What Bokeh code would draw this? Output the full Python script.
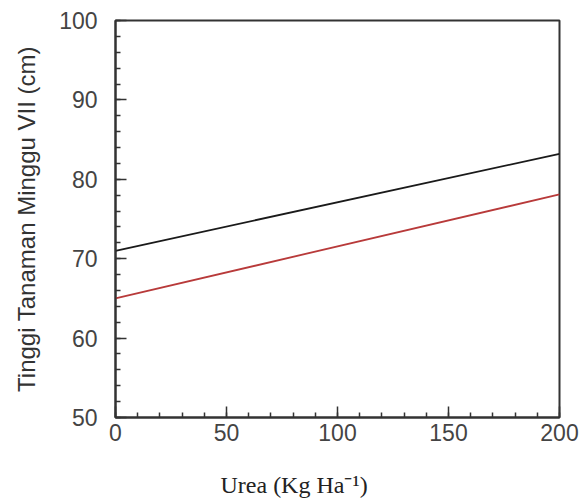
from bokeh.plotting import figure
from bokeh.models import Range1d, Title, FixedTicker
from bokeh.embed import file_html
from bokeh.resources import INLINE

urea = [0, 200]
tinggi_black = [71.0, 83.2]
tinggi_red = [65.0, 78.1]
x_ticks = [0, 50, 100, 150, 200]
y_ticks = [50, 60, 70, 80, 90, 100]
x_title = "Urea (Kg Ha\u207b\u00b9)"
y_title = "Tinggi Tanaman Minggu VII (cm)"

p = figure(width=582, height=504, output_backend="svg", toolbar_location=None,
           x_range=Range1d(0, 200), y_range=Range1d(50, 100),
           min_border_left=115, min_border_right=23, min_border_top=20, min_border_bottom=87)
p.grid.visible = False
p.background_fill_color = "white"
p.border_fill_color = "white"
p.outline_line_color = "#333333"
p.outline_line_width = 2

p.line(urea, tinggi_black, line_color="#1a1a1a", line_width=1.8)
p.line(urea, tinggi_red, line_color="#b83a3a", line_width=1.8)

for ax in (p.xaxis[0], p.yaxis[0]):
    ax.axis_line_color = "#333333"
    ax.axis_line_width = 2
    ax.major_tick_line_color = "#333333"
    ax.minor_tick_line_color = "#333333"
    ax.major_tick_line_width = 1.5
    ax.minor_tick_line_width = 1.5
    ax.major_tick_in = 11
    ax.major_tick_out = 0
    ax.minor_tick_in = 5
    ax.minor_tick_out = 0
    ax.major_label_text_font = "Liberation Sans"
    ax.major_label_text_font_size = "23px"
    ax.major_label_text_color = "#444444"

p.xaxis.ticker = FixedTicker(ticks=x_ticks, minor_ticks=list(range(0, 201, 10)))
p.yaxis.ticker = FixedTicker(ticks=y_ticks, minor_ticks=list(range(50, 101, 2)))
p.xaxis.major_label_standoff = 6
p.yaxis.major_label_standoff = 18

p.yaxis.axis_label = y_title
p.yaxis.axis_label_text_font = "Liberation Sans"
p.yaxis.axis_label_text_font_style = "normal"
p.yaxis.axis_label_text_font_size = "24px"
p.yaxis.axis_label_text_color = "#333333"
p.yaxis.axis_label_standoff = 16

spacer = Title(text="\u00a0", text_font_size="21px", standoff=0)
p.add_layout(spacer, "below")
t = Title(text=x_title, text_font="Liberation Serif", text_font_size="24px",
          text_font_style="normal", text_color="#222222", align="left",
          offset=105, standoff=2)
p.add_layout(t, "below")

open("out.html", "w").write(file_html(p, INLINE))
